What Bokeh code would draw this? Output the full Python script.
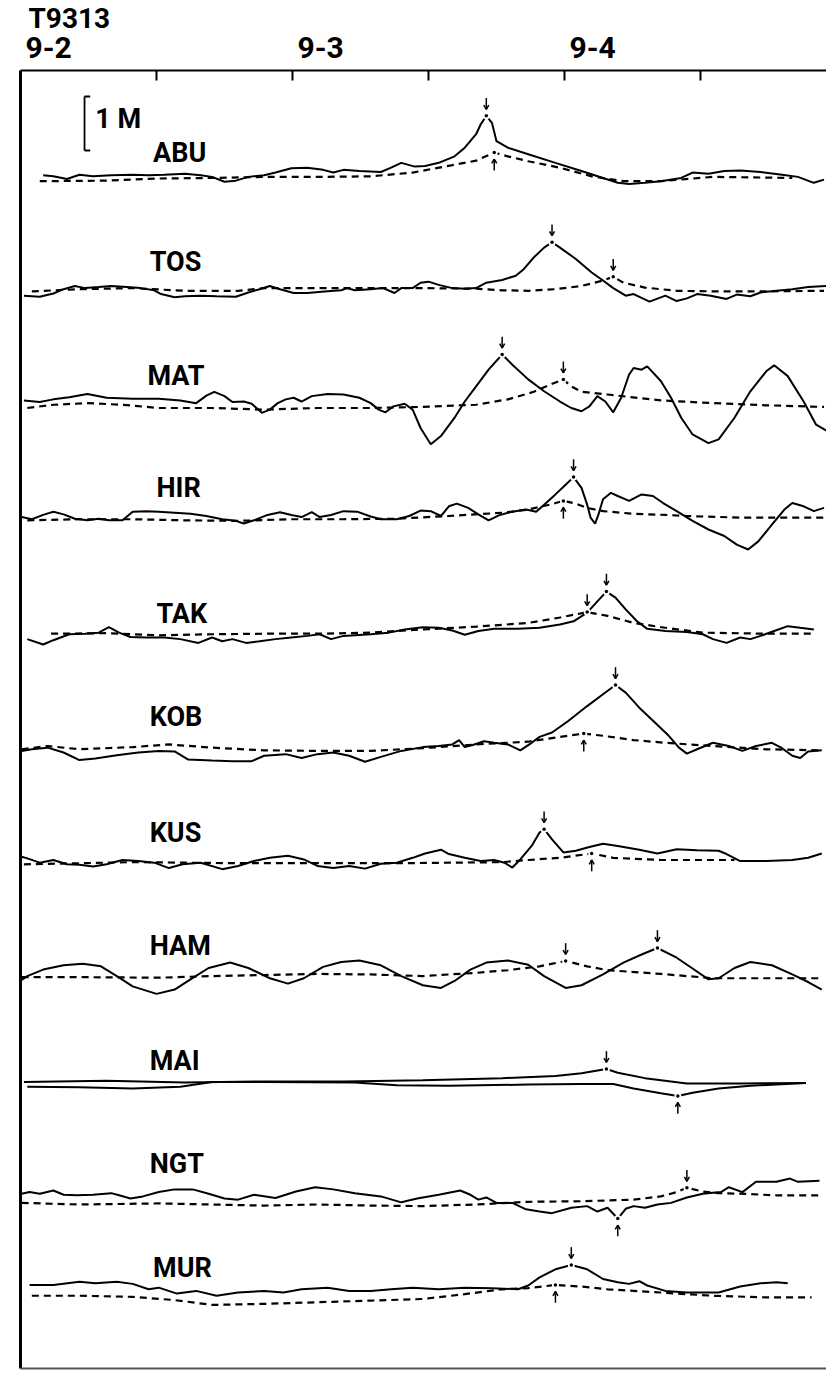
import numpy as np
from bokeh.plotting import figure
from bokeh.models import Range1d
from bokeh.embed import file_html
from bokeh.resources import INLINE
from bokeh.core.properties import value

# ---------------- data: (hour since 9-2 00h, sea level anomaly in metres) ----------------
ABU_OBS = [(2.0,0.09),(2.9,0.07),(4.1,0.02),(5.2,0.10),(6.4,0.07),(8.0,0.09),(9.9,0.10),(11.3,0.09),(12.7,0.10),(14.5,0.12),(15.9,0.09),(16.9,0.06),(18.0,-0.03),(19.0,-0.01),(20.1,0.06),(21.5,0.09),(22.5,0.14),(23.9,0.22),(25.3,0.23),(26.7,0.19),(27.6,0.14),(28.5,0.19),(29.9,0.17),(31.8,0.15),(32.7,0.23),(33.6,0.32),(34.8,0.25),(35.7,0.26),(36.9,0.32),(38.3,0.44),(39.2,0.60),(40.2,0.85),(40.6,1.03),(41.1,1.19),(41.6,1.06),(42.0,0.72),(43.0,0.60),(44.8,0.48),(47.2,0.32),(49.5,0.17),(51.4,0.04),(52.7,-0.05),(53.7,-0.07),(55.1,-0.05),(56.5,-0.02),(58.3,0.04),(59.3,0.14),(60.7,0.12),(62.1,0.17),(63.5,0.18),(65.3,0.15),(67.2,0.10),(68.6,0.06),(70.0,-0.05),(70.9,0.01)]
ABU_PRED = [(1.7,-0.02),(7.6,-0.01),(12.2,0.03),(16.9,0.04),(21.5,0.06),(26.2,0.06),(30.9,0.07),(34.6,0.14),(37.4,0.25),(40.2,0.36),(41.8,0.51),(43.0,0.44),(44.8,0.35),(47.6,0.23),(50.4,0.07),(53.2,-0.02),(56.5,-0.02),(61.1,0.06),(68.1,0.04)]

TOS_OBS = [(0.3,-0.09),(1.7,-0.11),(2.9,-0.05),(3.8,0.03),(4.8,0.09),(5.7,0.05),(6.9,0.07),(8.0,0.09),(9.4,0.07),(10.6,0.05),(11.8,0.01),(12.4,-0.06),(13.6,-0.12),(14.5,-0.10),(15.9,-0.09),(17.3,-0.10),(19.0,-0.11),(20.1,-0.03),(21.1,0.03),(22.0,0.09),(22.9,0.03),(24.1,-0.04),(25.3,-0.04),(27.1,-0.01),(28.3,0.01),(28.8,0.05),(29.5,0.01),(30.9,0.03),(32.0,0.05),(33.0,-0.04),(33.6,0.05),(34.6,0.05),(35.3,0.15),(36.0,0.17),(36.9,0.11),(38.1,0.05),(39.2,0.04),(40.2,0.05),(41.1,0.15),(42.5,0.20),(43.7,0.28),(44.4,0.40),(45.3,0.62),(46.2,0.80),(46.9,0.90),(47.6,0.80),(49.0,0.59),(50.4,0.34),(51.4,0.19),(52.3,0.05),(53.4,-0.09),(54.1,-0.06),(55.5,-0.20),(56.9,-0.09),(57.9,-0.19),(58.8,-0.14),(59.7,-0.06),(60.9,-0.09),(62.3,-0.15),(63.2,-0.07),(64.4,-0.10),(65.3,-0.03),(66.7,0.00),(68.1,0.03),(69.5,0.07),(71.2,0.09)]
TOS_PRED = [(1.0,-0.01),(5.2,0.03),(9.9,0.05),(14.5,0.00),(19.2,0.00),(21.5,0.05),(26.2,0.05),(30.9,0.05),(35.5,0.05),(40.2,0.04),(42.5,0.01),(44.8,0.00),(47.2,0.03),(49.5,0.09),(51.4,0.19),(52.3,0.26),(53.2,0.15),(55.1,0.06),(57.9,0.00),(61.1,-0.01),(65.8,-0.01),(70.9,0.00)]

MAT_OBS = [(0.3,0.12),(1.7,0.09),(2.9,0.14),(4.3,0.18),(5.9,0.24),(7.6,0.17),(9.9,0.15),(12.2,0.15),(14.1,0.12),(15.5,0.07),(16.4,0.21),(17.1,0.28),(18.0,0.20),(18.7,0.09),(19.7,0.10),(20.4,0.06),(21.3,-0.11),(22.0,-0.05),(22.7,0.07),(23.4,0.14),(24.1,0.17),(24.8,0.10),(25.7,0.20),(27.1,0.24),(28.5,0.23),(29.9,0.17),(30.9,0.07),(31.6,-0.05),(32.2,-0.10),(32.9,0.01),(33.9,0.06),(34.6,-0.05),(35.3,-0.39),(36.2,-0.69),(37.1,-0.54),(38.3,-0.20),(39.2,0.10),(40.2,0.38),(41.3,0.69),(42.5,0.97),(43.4,0.78),(44.8,0.51),(46.2,0.29),(47.6,0.10),(48.6,-0.02),(49.5,-0.08),(50.2,0.01),(50.9,0.20),(51.6,0.10),(52.3,-0.10),(53.0,0.17),(53.7,0.60),(54.1,0.72),(54.8,0.69),(55.3,0.75),(56.5,0.48),(57.4,0.17),(58.3,-0.20),(59.3,-0.51),(60.7,-0.67),(61.6,-0.60),(63.0,-0.20),(64.4,0.29),(65.8,0.66),(66.5,0.77),(67.7,0.57),(69.1,0.10),(70.2,-0.33),(71.2,-0.45)]
MAT_PRED = [(0.6,-0.02),(2.9,0.04),(5.9,0.07),(9.0,0.04),(12.2,-0.02),(16.9,-0.02),(21.5,-0.05),(26.2,-0.02),(30.9,-0.02),(35.5,0.00),(40.2,0.04),(43.0,0.14),(45.3,0.28),(46.7,0.41),(47.9,0.51),(48.6,0.38),(49.5,0.28),(51.8,0.23),(56.5,0.12),(61.1,0.07),(65.8,0.03),(70.9,0.00)]

HIR_OBS = [(0.1,0.05),(1.0,0.01),(2.0,0.09),(2.9,0.15),(3.8,0.10),(4.8,0.02),(5.9,-0.01),(6.9,0.02),(7.8,-0.01),(9.0,-0.01),(9.9,0.15),(11.1,0.16),(12.2,0.15),(13.6,0.13),(15.0,0.11),(16.4,0.07),(17.8,0.01),(19.0,-0.02),(19.7,-0.07),(20.6,-0.01),(21.8,0.09),(22.9,0.14),(23.9,0.09),(24.8,0.05),(25.7,0.14),(26.4,0.05),(27.4,0.09),(28.5,0.16),(29.7,0.15),(30.9,0.06),(31.8,0.01),(33.2,0.01),(34.3,0.07),(35.3,0.17),(36.2,0.16),(37.1,0.07),(37.8,0.25),(38.5,0.30),(39.5,0.22),(40.4,0.10),(41.3,-0.01),(42.3,0.09),(43.4,0.15),(44.6,0.19),(45.5,0.15),(46.2,0.28),(47.2,0.47),(48.1,0.65),(48.8,0.79),(49.5,0.59),(50.0,0.28),(50.3,0.04),(50.7,-0.07),(51.0,0.10),(51.4,0.38),(52.1,0.50),(52.7,0.44),(53.7,0.35),(54.8,0.47),(55.8,0.44),(56.7,0.31),(57.9,0.16),(59.3,-0.02),(60.7,-0.18),(62.1,-0.30),(63.2,-0.46),(64.2,-0.55),(65.1,-0.40),(66.3,-0.09),(67.4,0.19),(68.1,0.31),(69.1,0.25),(70.0,0.16),(70.9,0.22)]
HIR_PRED = [(0.6,-0.01),(5.2,0.01),(9.9,0.01),(14.5,-0.01),(19.2,-0.02),(23.9,0.01),(28.5,0.01),(33.2,0.02),(37.8,0.07),(42.5,0.13),(44.8,0.19),(46.7,0.28),(47.9,0.35),(49.0,0.30),(50.0,0.22),(51.4,0.16),(54.1,0.11),(56.9,0.09),(58.8,0.07),(63.5,0.04),(70.9,0.04)]

TAK_OBS = [(0.6,-0.10),(2.0,-0.20),(2.9,-0.12),(4.3,-0.01),(5.7,0.00),(6.9,0.02),(7.8,0.12),(8.7,0.02),(9.7,-0.06),(11.1,-0.07),(12.7,-0.07),(14.1,-0.10),(15.7,-0.17),(16.9,-0.07),(17.8,-0.14),(18.7,-0.10),(19.9,-0.17),(21.1,-0.14),(22.5,-0.10),(23.9,-0.07),(25.3,-0.04),(26.4,-0.01),(27.4,-0.10),(28.5,-0.04),(30.9,-0.01),(32.5,0.02),(33.9,0.08),(35.5,0.12),(36.9,0.11),(38.1,0.06),(39.2,-0.02),(40.4,0.05),(41.8,0.09),(43.9,0.09),(45.8,0.11),(47.6,0.17),(48.8,0.23),(50.0,0.39),(50.9,0.60),(51.7,0.78),(52.5,0.67),(53.4,0.45),(54.4,0.23),(55.3,0.09),(56.9,0.05),(58.8,0.03),(60.2,-0.01),(61.1,-0.10),(62.3,-0.17),(63.5,-0.07),(64.4,-0.10),(65.3,-0.04),(66.5,0.05),(67.7,0.14),(68.8,0.11),(70.0,0.08)]
TAK_PRED = [(2.7,0.00),(7.6,0.01),(12.2,-0.03),(16.9,-0.01),(21.5,0.00),(26.2,0.00),(30.9,0.02),(35.5,0.08),(40.2,0.13),(44.8,0.20),(47.6,0.30),(50.0,0.40),(51.8,0.33),(54.1,0.20),(56.9,0.11),(60.2,0.02),(65.8,0.00),(70.0,0.00)]

KOB_OBS = [(0.1,-0.01),(1.0,0.02),(2.4,0.05),(3.8,-0.04),(5.2,-0.18),(6.6,-0.15),(8.5,-0.09),(10.4,-0.04),(12.2,-0.01),(13.6,-0.02),(14.8,-0.17),(16.9,-0.19),(18.7,-0.20),(20.4,-0.20),(21.5,-0.10),(23.4,-0.07),(24.8,-0.14),(26.2,-0.07),(27.6,-0.04),(29.0,-0.10),(30.4,-0.21),(31.8,-0.12),(33.6,-0.01),(35.5,0.06),(36.9,0.08),(38.1,0.11),(38.7,0.19),(39.2,0.06),(39.9,0.10),(40.9,0.17),(41.8,0.14),(43.0,0.11),(44.1,0.00),(45.1,0.14),(45.8,0.25),(46.9,0.33),(48.3,0.54),(50.0,0.82),(51.4,1.04),(52.5,1.21),(53.4,1.07),(54.6,0.79),(56.0,0.51),(57.2,0.27),(58.1,0.05),(58.8,-0.06),(59.7,0.02),(61.1,0.14),(62.5,0.08),(63.7,-0.01),(64.9,0.08),(66.3,0.14),(67.2,0.04),(68.1,-0.10),(68.8,-0.14),(69.5,-0.02),(70.7,0.00)]
KOB_PRED = [(0.1,0.02),(2.4,0.08),(5.2,0.02),(9.9,0.06),(13.1,0.11),(16.9,0.05),(21.5,0.00),(26.2,-0.01),(30.9,-0.01),(35.5,0.04),(40.2,0.11),(44.8,0.16),(47.6,0.25),(49.7,0.31),(51.4,0.27),(54.1,0.19),(56.9,0.14),(61.1,0.08),(65.8,0.02),(70.5,0.00)]

KUS_OBS = [(0.1,0.12),(0.6,0.09),(1.7,0.01),(2.9,0.06),(4.1,-0.02),(5.2,-0.03),(6.4,-0.06),(7.6,-0.02),(9.0,0.06),(10.4,0.04),(11.8,0.01),(13.1,-0.09),(14.3,-0.02),(15.9,0.01),(17.8,-0.11),(19.2,-0.05),(20.6,0.04),(22.0,0.10),(23.6,0.14),(25.0,0.07),(26.2,-0.05),(27.6,-0.09),(29.0,-0.05),(30.4,-0.10),(31.8,-0.01),(33.2,0.01),(34.6,0.10),(35.7,0.18),(37.1,0.25),(37.8,0.17),(39.2,0.10),(40.6,0.04),(41.8,0.06),(42.7,0.01),(43.4,-0.08),(44.1,0.07),(45.1,0.32),(45.8,0.57),(46.2,0.63),(46.9,0.44),(47.9,0.20),(49.0,0.23),(50.2,0.30),(51.4,0.36),(52.7,0.32),(54.6,0.25),(56.2,0.18),(57.9,0.26),(59.7,0.24),(61.6,0.23),(62.3,0.17),(63.5,0.04),(65.8,0.04),(68.1,0.06),(69.5,0.10),(70.7,0.18)]
KUS_PRED = [(0.3,-0.02),(5.2,0.00),(9.9,0.02),(14.5,0.01),(19.2,0.00),(23.9,0.00),(28.5,0.00),(33.2,0.00),(37.8,0.01),(42.5,0.02),(44.8,0.06),(47.6,0.10),(50.4,0.18),(52.3,0.10),(56.5,0.06),(61.1,0.06),(63.0,0.06)]

HAM_OBS = [(0.1,-0.05),(0.6,0.02),(2.0,0.14),(3.8,0.22),(5.5,0.25),(7.1,0.20),(8.5,0.02),(9.9,-0.17),(12.0,-0.31),(13.6,-0.23),(15.0,-0.04),(16.6,0.17),(18.5,0.27),(20.1,0.17),(22.0,-0.02),(23.6,-0.12),(25.0,-0.02),(26.7,0.19),(28.3,0.28),(29.9,0.31),(31.8,0.22),(33.6,0.02),(35.5,-0.15),(37.1,-0.20),(38.3,-0.07),(39.7,0.14),(41.1,0.27),(43.0,0.31),(44.8,0.23),(46.2,0.02),(48.1,-0.20),(49.5,-0.15),(51.4,0.05),(53.2,0.27),(54.8,0.42),(56.2,0.54),(57.9,0.36),(59.3,0.16),(60.7,-0.04),(61.6,-0.02),(63.0,0.17),(64.4,0.28),(66.3,0.22),(68.1,0.05),(69.5,-0.09),(70.7,-0.23)]
HAM_PRED = [(0.1,0.00),(5.2,0.00),(12.2,-0.01),(16.9,0.02),(21.5,0.04),(26.2,0.06),(30.9,0.05),(35.5,0.02),(40.2,0.08),(43.0,0.13),(45.8,0.20),(48.1,0.30),(50.0,0.20),(51.8,0.13),(56.5,0.06),(61.1,-0.02),(65.8,-0.02),(70.7,-0.02)]

MAI_OBS = [(0.3,0.03),(7.6,0.05),(14.5,0.02),(21.5,0.04),(28.5,0.04),(35.5,0.06),(42.5,0.10),(47.2,0.14),(49.5,0.19),(51.7,0.27),(52.7,0.20),(55.1,0.10),(58.8,0.00),(63.5,0.00),(69.3,0.01)]
MAI_PRED = [(0.6,-0.06),(5.2,-0.07),(9.9,-0.09),(14.1,-0.06),(16.9,0.03),(21.5,0.03),(29.5,0.02),(33.2,-0.03),(37.8,-0.04),(44.8,-0.02),(49.5,-0.01),(52.3,-0.01),(54.1,-0.09),(56.5,-0.18),(58.0,-0.23),(59.3,-0.17),(61.6,-0.09),(64.4,-0.04),(69.3,0.01)]

NGT_OBS = [(0.1,0.19),(0.8,0.22),(1.7,0.19),(2.9,0.25),(3.8,0.17),(5.0,0.16),(6.4,0.17),(8.0,0.20),(8.7,0.16),(9.7,0.10),(10.8,0.14),(12.2,0.22),(13.6,0.27),(15.2,0.27),(16.6,0.19),(18.0,0.10),(19.2,0.08),(20.6,0.17),(22.5,0.11),(24.3,0.23),(26.0,0.31),(27.6,0.27),(29.5,0.20),(31.8,0.14),(33.6,0.03),(35.0,0.10),(36.9,0.17),(38.8,0.25),(39.7,0.17),(40.4,0.08),(41.1,0.12),(42.0,0.02),(43.4,0.02),(44.6,-0.10),(45.8,-0.14),(46.9,-0.17),(48.6,-0.07),(50.0,-0.04),(50.9,-0.14),(51.8,-0.07),(52.7,-0.27),(53.4,-0.09),(54.1,-0.04),(55.1,-0.07),(56.2,-0.01),(57.4,0.02),(58.8,0.12),(60.2,0.19),(61.8,0.22),(62.5,0.31),(63.7,0.22),(64.9,0.41),(66.7,0.41),(67.9,0.47),(68.6,0.41),(70.5,0.43)]
NGT_PRED = [(0.1,0.02),(5.2,-0.01),(12.2,0.01),(16.9,-0.01),(21.5,-0.03),(26.2,-0.01),(30.9,-0.03),(35.5,-0.04),(40.2,-0.01),(44.8,0.04),(49.5,0.05),(54.1,0.08),(56.5,0.14),(57.9,0.22),(58.8,0.30),(60.2,0.23),(61.6,0.20),(63.5,0.19),(66.7,0.16),(70.5,0.16)]

MUR_OBS = [(0.8,0.20),(2.9,0.20),(5.2,0.26),(6.6,0.23),(8.5,0.26),(9.9,0.22),(11.3,0.12),(12.2,0.15),(13.8,0.04),(15.5,0.09),(17.3,0.00),(19.2,0.06),(21.5,0.09),(23.2,0.06),(24.8,0.12),(27.1,0.15),(29.0,0.09),(30.9,0.09),(32.7,0.12),(34.6,0.15),(36.9,0.12),(39.2,0.15),(41.6,0.14),(43.9,0.12),(44.8,0.19),(45.8,0.34),(47.2,0.49),(48.6,0.57),(50.0,0.49),(51.4,0.31),(52.7,0.25),(53.7,0.22),(54.6,0.27),(55.3,0.19),(56.9,0.09),(58.8,0.06),(61.6,0.06),(63.5,0.17),(65.3,0.23),(66.7,0.25),(67.7,0.23)]
MUR_PRED = [(1.0,0.00),(5.2,0.00),(9.9,-0.02),(13.6,-0.08),(16.9,-0.17),(21.5,-0.15),(26.2,-0.12),(30.9,-0.09),(35.5,-0.06),(39.2,0.03),(42.5,0.12),(44.8,0.14),(47.2,0.20),(49.5,0.17),(51.8,0.12),(56.5,0.06),(61.1,0.00),(65.8,-0.03),(69.8,-0.03)]

STATIONS = ["ABU", "TOS", "MAT", "HIR", "TAK", "KOB", "KUS", "HAM", "MAI", "NGT", "MUR"]
OBS = [ABU_OBS, TOS_OBS, MAT_OBS, HIR_OBS, TAK_OBS, KOB_OBS, KUS_OBS, HAM_OBS, MAI_OBS, NGT_OBS, MUR_OBS]
PRED = [ABU_PRED, TOS_PRED, MAT_PRED, HIR_PRED, TAK_PRED, KOB_PRED, KUS_PRED, HAM_PRED, MAI_PRED, NGT_PRED, MUR_PRED]
# which extreme of which series is marked, and arrow direction
MARKS = [
    [("obs", "max", "down"), ("pred", "max", "up")],
    [("obs", "max", "down"), ("pred", "max", "down")],
    [("obs", "max", "down"), ("pred", "max", "down")],
    [("obs", "max", "down"), ("pred", "max", "up")],
    [("obs", "max", "down"), ("pred", "max", "down")],
    [("obs", "max", "down"), ("pred", "max", "up")],
    [("obs", "max", "down"), ("pred", "max", "up")],
    [("obs", "max", "down"), ("pred", "max", "down")],
    [("obs", "max", "down"), ("pred", "min", "up")],
    [("obs", "min", "up"), ("pred", "max", "down")],
    [("obs", "max", "down"), ("pred", "max", "up")],
]
DAY_TICKS = [0, 24, 48]
DAY_LABELS = ["9-2", "9-3", "9-4"]
HALF_DAY_TICKS = [12, 24, 36, 48, 60]
TITLE = "T9313"
SCALE_M = 1.0

# ---------------- layout (screen geometry) ----------------
W, H = 826, 1370
PX_PER_HOUR = 272 / 24.0
PX_PER_M = 54.0
X0_PX, Y0_PX = 20, 70             # where 9-2 00h / the top frame line sit on the page
BOTTOM_PX = 1368
ROW_BASE = [2.03, 4.08, 6.23, 8.32, 10.43, 12.59, 14.68, 16.79, 18.76, 20.99, 22.69]  # m below frame top
LABEL_X = [11.7, 11.4, 11.2, 12.0, 12.0, 11.4, 11.4, 11.4, 11.4, 11.4, 11.7]
LABEL_LIFT_PX = [17, 19, 21, 22, 10, 23, 20, 21, 13, 30, 18]
PRED_SOLID = [s == "MAI" for s in STATIONS]
FONT = "Roboto"
TEXT_NUDGE = -10   # svg baseline correction, screen px

def px_y(px):  # page pixel row -> data y (m)
    return (Y0_PX - px) / PX_PER_M

x_lo, x_hi = -X0_PX / PX_PER_HOUR, (W - X0_PX) / PX_PER_HOUR
y_lo, y_hi = px_y(H), px_y(0)

p = figure(width=W, height=H, x_range=Range1d(x_lo, x_hi), y_range=Range1d(y_lo, y_hi),
           x_axis_location=None, y_axis_location=None,
           output_backend="svg", toolbar_location=None, min_border=0)
p.outline_line_color = None
p.grid.visible = False
p.background_fill_color = "white"
p.border_fill_color = "white"

# frame: top line, thick left line, grey bottom line, inward half-day ticks
y_bot = px_y(BOTTOM_PX)
tick_len = 10 / PX_PER_M
p.segment(x0=[0, 0], y0=[0, 0], x1=[x_hi, 0], y1=[0, y_bot], line_color="black", line_width=[2, 3])
p.segment(x0=[0], y0=[y_bot], x1=[x_hi], y1=[y_bot], line_color="#555555", line_width=2)
p.segment(x0=HALF_DAY_TICKS, y0=[0] * len(HALF_DAY_TICKS), x1=HALF_DAY_TICKS,
          y1=[-tick_len] * len(HALF_DAY_TICKS), line_color="black", line_width=2)

seg_x0, seg_y0, seg_x1, seg_y1 = [], [], [], []
ext_x, ext_y = [], []
for i, st in enumerate(STATIONS):
    base = -ROW_BASE[i]
    obs = np.array(OBS[i]); pred = np.array(PRED[i])
    p.line(obs[:, 0], obs[:, 1] + base, line_color="black", line_width=2)
    if PRED_SOLID[i]:
        p.line(pred[:, 0], pred[:, 1] + base, line_color="black", line_width=2)
    else:
        p.line(pred[:, 0], pred[:, 1] + base, line_color="black", line_width=2.2, line_dash="7 5")
    for series, kind, direction in MARKS[i]:
        arr = obs if series == "obs" else pred
        k = np.argmax(arr[:, 1]) if kind == "max" else np.argmin(arr[:, 1])
        t, v = arr[k, 0], arr[k, 1] + base
        ext_x.append(t); ext_y.append(v)
        sgn = 1 if direction == "down" else -1
        tip = v + sgn * 0.12
        tail = v + sgn * 0.33
        seg_x0 += [t, t - 0.22, t + 0.22]
        seg_y0 += [tail, tip + sgn * 0.08, tip + sgn * 0.08]
        seg_x1 += [t, t, t]
        seg_y1 += [tip, tip, tip]

# peak marks: a small gap in the trace with a dot, plus the arrow
p.scatter(ext_x, ext_y, size=7, fill_color="white", line_color=None)
p.scatter(ext_x, ext_y, size=3.5, fill_color="black", line_color=None)
p.segment(x0=seg_x0, y0=seg_y0, x1=seg_x1, y1=seg_y1, line_color="black", line_width=1.5)

# station names
p.text(x=LABEL_X,
       y=[-ROW_BASE[i] + LABEL_LIFT_PX[i] / PX_PER_M for i in range(len(STATIONS))],
       text=STATIONS, y_offset=TEXT_NUDGE, text_font=value(FONT), text_font_style="bold",
       text_font_size="27px", text_baseline="alphabetic", text_align="left", text_color="black")

# 1 m scale bar
bar_x, bar_top = 5.65, px_y(96)
p.segment(x0=[bar_x, bar_x, bar_x], y0=[bar_top, bar_top, bar_top - SCALE_M],
          x1=[bar_x, bar_x + 0.5, bar_x + 0.5], y1=[bar_top - SCALE_M, bar_top, bar_top - SCALE_M],
          line_color="black", line_width=1.8)
p.text(x=[6.6], y=[px_y(128)], text=["1 M"], y_offset=TEXT_NUDGE, text_font=value(FONT),
       text_font_style="bold", text_font_size="27px", text_baseline="alphabetic",
       text_align="left", text_color="black")

# date labels and title above the frame
p.text(x=DAY_TICKS, y=[px_y(57)] * len(DAY_TICKS), text=DAY_LABELS, x_offset=5, y_offset=TEXT_NUDGE,
       text_font=value(FONT), text_font_style="bold", text_font_size="30px",
       text_baseline="alphabetic", text_align="left", text_color="black")
p.text(x=[0], y=[px_y(28)], text=[TITLE], x_offset=8, y_offset=TEXT_NUDGE,
       text_font=value(FONT), text_font_style="bold", text_font_size="28px",
       text_baseline="alphabetic", text_align="left", text_color="black")

open("out.html", "w").write(file_html(p, INLINE))
